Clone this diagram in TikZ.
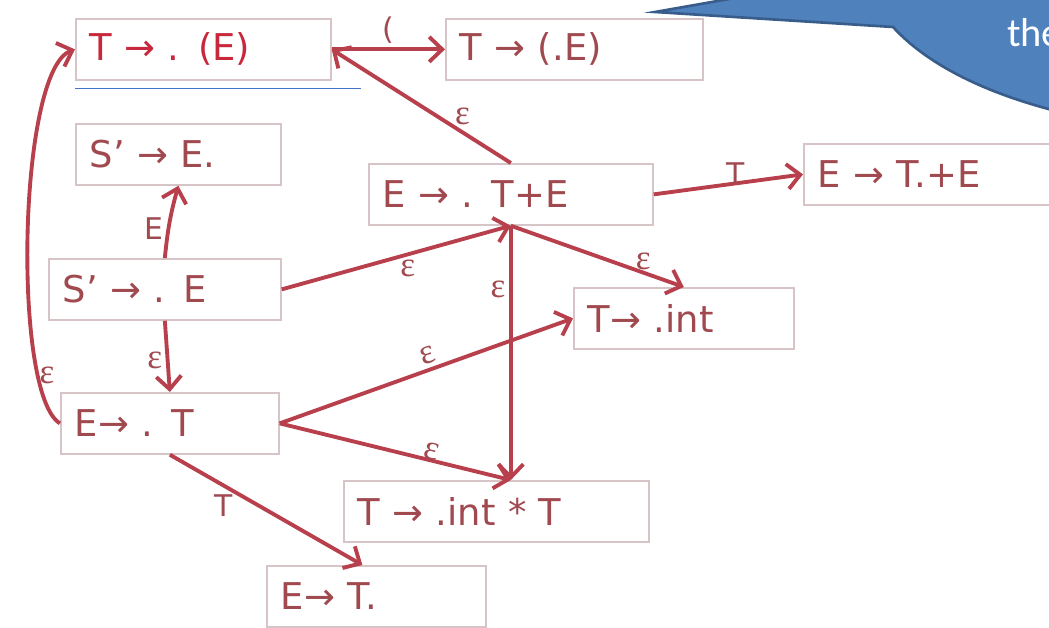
\documentclass[tikz,border=0pt]{standalone}
\usepackage{fontspec}
\setmainfont{DejaVu Sans}
\newfontfamily\epsfont{Liberation Serif}
\newfontfamily\calloutfont{Carlito}
\usetikzlibrary{arrows.meta, positioning, calc}
\definecolor{arcRed}{HTML}{B8404C}
\definecolor{itemText}{HTML}{A04A50}
\definecolor{startRed}{HTML}{C8283C}
\definecolor{itemLine}{HTML}{D6C4C6}
\definecolor{underBlue}{HTML}{4472C4}
\definecolor{calloutFill}{HTML}{4F81BD}
\definecolor{calloutLine}{HTML}{385D8A}
\tikzset{
  arrowE/.style={-{Straight Barb[length=2.6mm, width=5mm]}, arcRed, line width=2.2pt},
  item/.style={rectangle, draw=itemLine, fill=white, line width=1pt, text=itemText,
               text width=#1, inner xsep=0.28cm, minimum height=1.22cm, align=left},
  eps/.style={text=itemText, font=\epsfont\fontsize{20}{20}\selectfont, inner sep=2pt},
  lbl/.style={text=itemText, font=\fontsize{17}{17}\selectfont, inner sep=2pt},
}
\begin{document}
\begin{tikzpicture}[x=0.02cm, y=-0.02cm, font=\fontsize{21}{24}\selectfont]
  \useasboundingbox (0,0) rectangle (1049,628);
  \clip (0,0) rectangle (1049,628);
  % callout, cut by the frame
  \filldraw[fill=calloutFill, draw=calloutLine, line width=1.5pt]
    (655,12) -- (893,27) .. controls (925,62) and (980,92) .. (1060,112)
    -- (1060,-10) -- (780,-10) -- cycle;
  \node[anchor=base west, text=white, font=\calloutfont\fontsize{23}{23}\selectfont]
    (callTxt) at (1001,47) {the};
  % items
  \node[item=4.54cm, anchor=north west, text=startRed] (tE) at (75,18) {T → . (E)};
  \node[item=4.58cm, anchor=north west] (tdE) at (445,18) {T → (.E)};
  \node[item=3.54cm, anchor=north west] (sE) at (75,123) {S' → E.};
  \node[item=5.12cm, anchor=north west] (eTE) at (368,163) {E → . T+E};
  \node[item=4.64cm, anchor=north west] (eTpE) at (803,143) {E → T.+E};
  \node[item=4.08cm, anchor=north west] (sdE) at (48,258) {S' → . E};
  \node[item=3.84cm, anchor=north west] (tInt) at (573,287) {T→ .int};
  \node[item=3.80cm, anchor=north west] (eT) at (60,392) {E→ . T};
  \node[item=5.54cm, anchor=north west] (tIntT) at (343,480) {T → .int * T};
  \node[item=3.82cm, anchor=north west] (eTdot) at (266,565) {E→ T.};
  \draw[underBlue, line width=0.8pt] ([yshift=-0.16cm]tE.south west) -- ++(286,0);
  \coordinate (meet) at (eTE.south |- tIntT.north);
  % transitions
  \draw[arrowE] (tE.east) -- node[lbl, above] {(} (tdE.west);
  \draw[arrowE] (eTE.north) -- node[eps, pos=0.32, above right=-3pt] {ε} (tE.east);
  \draw[arrowE] (eTE.east) -- node[lbl, pos=0.55, above=-4pt] {T} (eTpE.west);
  \draw[arrowE] (eTE.south) -- node[eps, pos=0.72, above right=-4pt] {ε} (tInt.north);
  \draw[arrowE] (eTE.south) -- node[eps, pos=0.25, left] {ε} (meet);
  \draw[arrowE] (sdE.east) -- node[eps, pos=0.55, below] {ε} (eTE.south);
  \draw[arrowE] (sdE.north) to[bend left=5] node[lbl, pos=0.4, left] {E} (sE.south);
  \draw[arrowE] (sdE.south) -- node[eps, pos=0.55, left] {ε} (eT.north);
  \draw[arrowE] (eT.west) .. controls (12,395) and (18,70) .. node[eps, pos=0.2, right=-2pt] {ε} (tE.west);
  \draw[arrowE] (eT.east) -- node[eps, pos=0.52, above, sloped] {ε} (tInt.west);
  \draw[arrowE] (eT.east) -- node[eps, pos=0.65, above=-3pt, sloped] {ε} (meet);
  \draw[arrowE] (eT.south) -- node[lbl, pos=0.34, below left=-2pt] {T} ([xshift=-0.28cm]eTdot.north);
\end{tikzpicture}
\end{document}
